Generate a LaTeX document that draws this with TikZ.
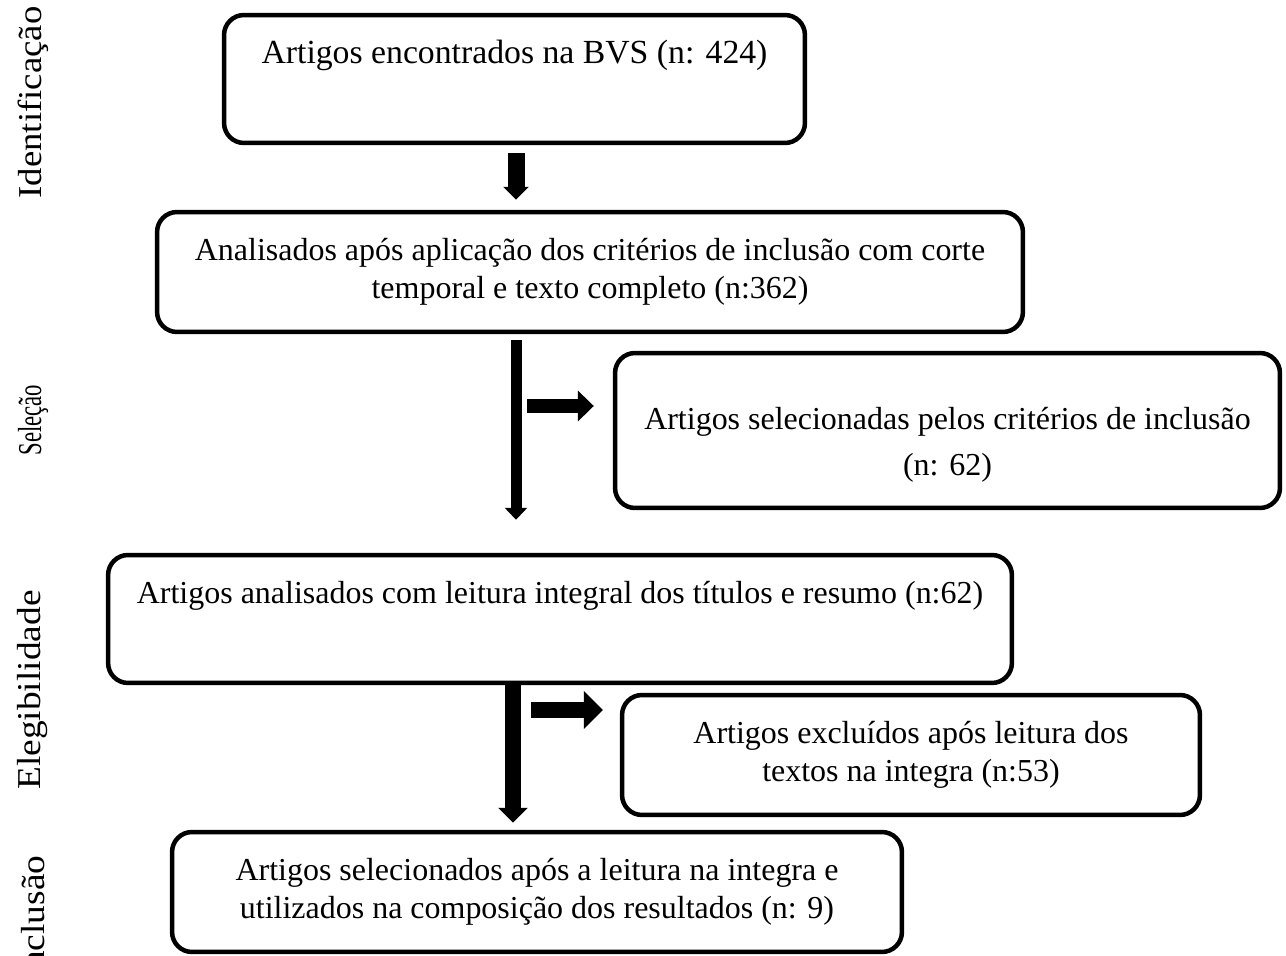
\documentclass[tikz,border=0pt]{standalone}
\usepackage{fontspec}
\setmainfont{Liberation Serif}
\usetikzlibrary{arrows.meta,positioning}

\begin{document}
\begin{tikzpicture}
[x=0.02cm, y=-0.02cm, font=\fontsize{18.2}{21.6}\selectfont,
flowbox/.style={rectangle, rounded corners=0.4cm, draw=black, line width=0.09cm, inner sep=0pt, align=center},
phase/.style={rotate=90, inner sep=0pt, font=\fontsize{19}{22}\selectfont},
fatarrow/.style={draw=black}
]

\useasboundingbox (0,0) rectangle (1286,956);

% Phase labels
\node[phase] (lblident) at (33,102.5) {\scalebox{1.10}[1]{Identificação}};
\node[phase] (lblsel) at (33,420) {\scalebox{0.68}[1]{Seleção}};
\node[phase] (lblelig) at (33,690) {\scalebox{1.12}[1]{Elegibilidade}};
\node[phase] (lblincl) at (33,919) {\scalebox{1.12}[1]{Inclusão}};

% Boxes
\node[flowbox, minimum width=11.62cm, minimum height=2.56cm, font=\fontsize{19.2}{21.6}\selectfont] (bvs) at (514.5,79)
  {Artigos encontrados na BVS (n: 424)\\[9pt]\mbox{}};
\node[flowbox, minimum width=17.32cm, minimum height=2.4cm] (crit) at (590,272)
  {Analisados após aplicação dos critérios de inclusão com corte\\temporal e texto completo (n:362)};
\node[flowbox, minimum width=13.3cm, minimum height=3.1cm] (selec) at (947.5,430.5)
  {\rule{0pt}{29pt}Artigos selecionadas pelos critérios de inclusão\\[5pt](n: 62)};
\node[flowbox, minimum width=18.08cm, minimum height=2.56cm] (leit) at (560,619)
  {Artigos analisados com leitura integral dos títulos e resumo (n:62)\\[9pt]\mbox{}};
\node[flowbox, minimum width=11.56cm, minimum height=2.4cm] (excl) at (911,755)
  {Artigos excluídos após leitura dos\\textos na integra (n:53)};
\node[flowbox, minimum width=14.6cm, minimum height=2.4cm] (incl) at (537,892)
  {Artigos selecionados após a leitura na integra e\\utilizados na composição dos resultados (n: 9)};

% Arrows
\coordinate (spine) at (516,0);
\coordinate (forkA) at (527,406);
\coordinate (forkB) at (531,710);

\draw[fatarrow, line width=0.34cm, -{Triangle[width=0.5cm,length=0.26cm]},
  shorten <=0.16cm, shorten >=0.2cm] (bvs.south -| spine) -- (crit.north -| spine);
\draw[fatarrow, line width=0.22cm, -{Triangle[width=0.44cm,length=0.24cm]},
  shorten <=0.12cm, shorten >=0.66cm] (crit.south -| spine) -- (leit.north -| spine);
\draw[fatarrow, line width=0.32cm, -{Triangle[width=0.58cm,length=0.3cm]},
  shorten >=0.14cm] ([xshift=-1.7pt]leit.south -| spine) -- ([xshift=-1.7pt]incl.north -| spine);

\draw[fatarrow, line width=0.28cm, -{Triangle[width=0.6cm,length=0.32cm]},
  shorten >=0.38cm] (forkA) -- (forkA -| selec.west);
\draw[fatarrow, line width=0.32cm, -{Triangle[width=0.74cm,length=0.38cm]},
  shorten >=0.34cm] (forkB) -- (forkB -| excl.west);
\end{tikzpicture}
\end{document}
